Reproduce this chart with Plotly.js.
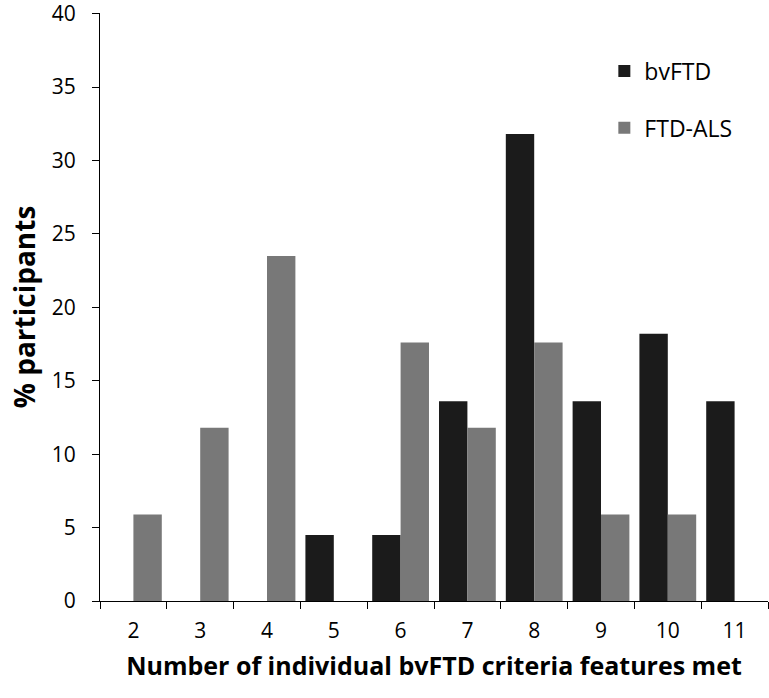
<!DOCTYPE html>
<html>
<head>
<meta charset="utf-8">
<script src="https://cdn.plot.ly/plotly-3.0.1.min.js"></script>
<style>html,body{margin:0;padding:0;background:#fff;}#chart{width:769px;height:698px;}</style>
</head>
<body>
<div id="chart"></div>
<script>
const categories = ['2','3','4','5','6','7','8','9','10','11'];
const bvFTD = [0, 0, 0, 4.5, 4.5, 13.6, 31.8, 13.6, 18.2, 13.6];
const ftdALS = [5.9, 11.8, 23.5, 0, 17.6, 11.8, 17.6, 5.9, 5.9, 0];
const seriesNames = ['bvFTD', 'FTD-ALS'];
const yTicks = [0, 5, 10, 15, 20, 25, 30, 35, 40];

const font = 'Open Sans, Liberation Sans, sans-serif';
const data = [
  {type:'bar', x:categories, y:bvFTD, name:seriesNames[0], legendgroup:'a',
   marker:{color:'#1b1b1b'}},
  {type:'bar', x:categories, y:ftdALS, name:seriesNames[1], legendgroup:'b',
   marker:{color:'#787878'}}
];
const layout = {
  width:769, height:698,
  margin:{l:100, r:1, t:13, b:97},
  paper_bgcolor:'#fff', plot_bgcolor:'#fff',
  barmode:'group', bargap:0.15, bargroupgap:0,
  font:{family:font, color:'#000', size:21},
  xaxis:{type:'category', showline:true, linecolor:'#000', linewidth:1.2,
    ticks:'outside', tickson:'boundaries', ticklen:7, tickcolor:'#000',
    showgrid:false, zeroline:false, tickfont:{size:21}, ticklabelstandoff:11,
    title:{text:'<b>Number of individual bvFTD criteria features met</b>', font:{size:25}, standoff:14}},
  yaxis:{range:[0,40.05], tickmode:'array', tickvals:yTicks, showline:true, linecolor:'#000', linewidth:1.2,
    ticks:'outside', ticklen:7, tickcolor:'#000', showgrid:false, zeroline:false,
    tickfont:{size:21}, ticklabelstandoff:12, ticklabeloverflow:'allow',
    title:{text:'<b>% participants</b>', font:{size:28}, standoff:7}},
  showlegend:true,
  legend:{x:0.755, y:0.938, xanchor:'left', yanchor:'top', traceorder:'grouped',
    tracegroupgap:24, font:{size:23}, bgcolor:'rgba(0,0,0,0)'}
};
Plotly.newPlot('chart', data, layout, {displayModeBar:false});
</script>
</body>
</html>
